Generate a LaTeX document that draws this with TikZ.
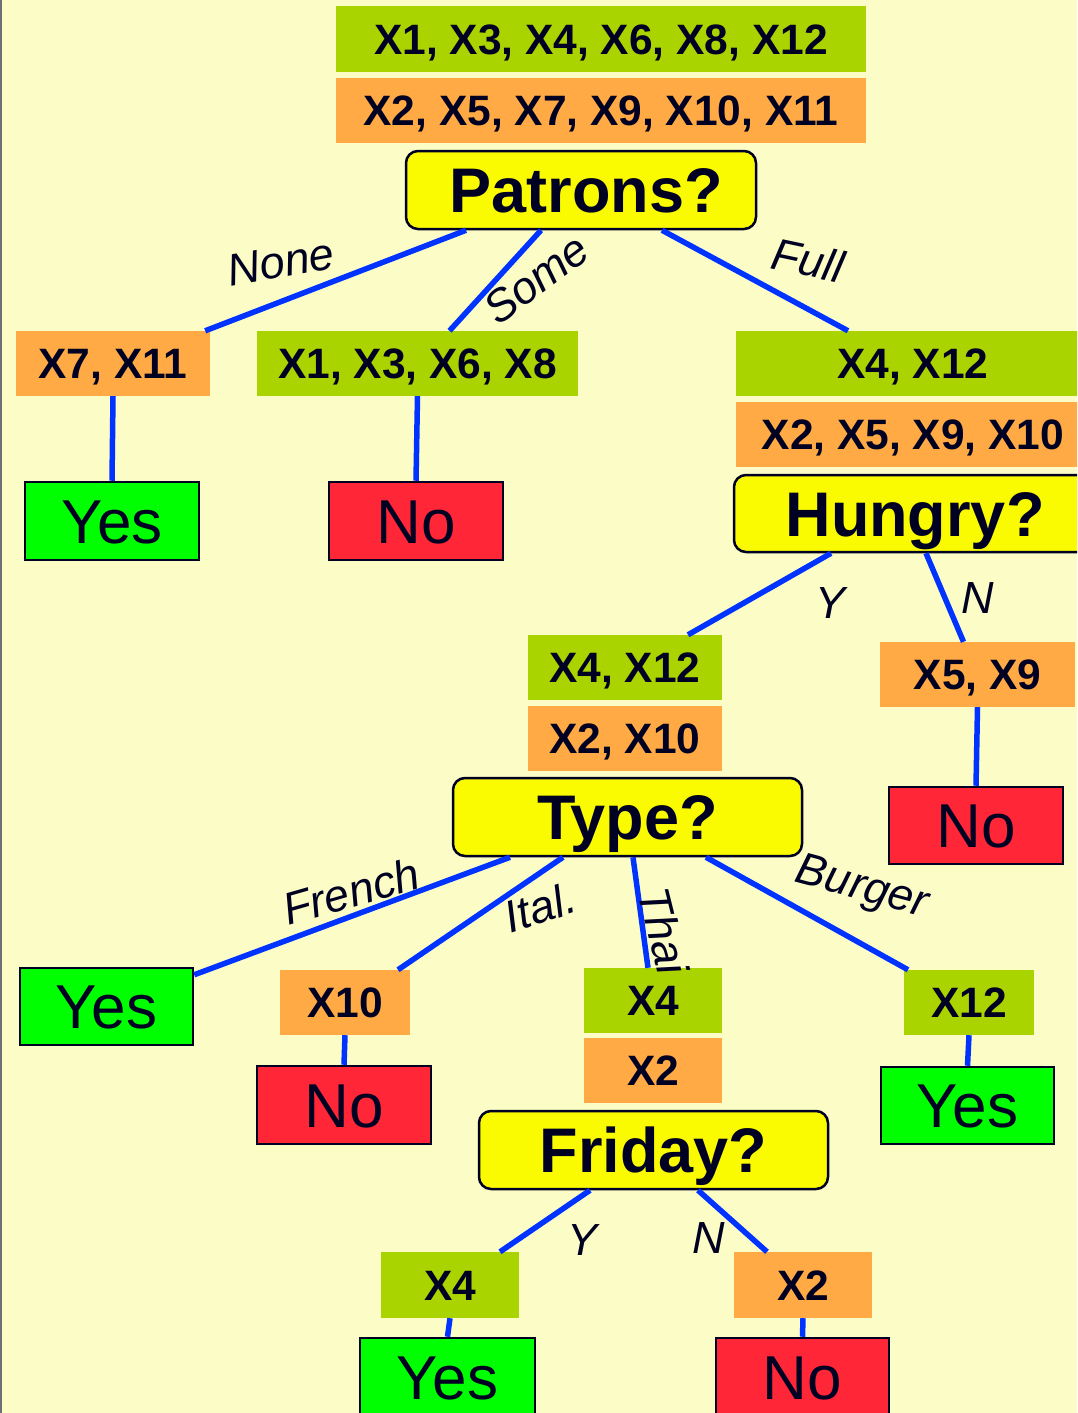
\documentclass[tikz,border=0pt]{standalone}
\usepackage{fontspec}
\setmainfont{Liberation Sans}

\definecolor{bg}{HTML}{FCFCC6}
\definecolor{ink}{HTML}{000022}
\definecolor{setgreen}{HTML}{AAD400}
\definecolor{setorange}{HTML}{FFAA44}
\definecolor{qyellow}{HTML}{FAFA00}
\definecolor{leafgreen}{HTML}{00FF00}
\definecolor{leafred}{HTML}{FF2638}
\definecolor{edgeblue}{HTML}{0033FF}
\definecolor{frame}{HTML}{707070}

\tikzset{
  setbox/.style={inner sep=0pt, text=ink, text height=30.4pt, text depth=0pt,
    font=\fontsize{42.5}{48}\selectfont\bfseries},
  posset/.style={setbox, fill=setgreen},
  negset/.style={setbox, fill=setorange},
  question/.style={draw=ink, line width=2.5pt, fill=qyellow, rounded corners=12pt,
    inner sep=0pt, text=ink, text height=45.1pt, text depth=0pt,
    font=\fontsize{63}{70}\selectfont\bfseries},
  leaf/.style={draw=ink, line width=2.5pt, inner sep=0pt, text=ink,
    text height=44.4pt, text depth=0pt, font=\fontsize{62}{68}\selectfont},
  yesleaf/.style={leaf, fill=leafgreen},
  noleaf/.style={leaf, fill=leafred},
  branch/.style={draw=edgeblue, line width=5.5pt},
  lbl/.style={inner sep=0pt, text=ink, font=\fontsize{45}{50}\selectfont\itshape},
  wh/.style n args={2}{minimum width=#1pt, minimum height=#2pt}
}

\begin{document}
\begin{tikzpicture}[x=1pt, y=-1pt]
  \useasboundingbox (0,0) rectangle (1077,1413);
  \clip (0,0) rectangle (1077,1413);
  \fill[bg] (0,0) rectangle (1077,1413);
  \draw[frame, line width=2pt] (1,0) -- (1,1413);

  % root
  \node[posset, wh={530}{66}] (rootpos) at (601,39) {X1, X3, X4, X6, X8, X12};
  \node[negset, wh={530}{65}] (rootneg) at (601,110.5) {X2, X5, X7, X9, X10, X11};
  \node[question, wh={350}{78}] (patrons) at (581,190) {\hspace*{10pt}Patrons?};

  % patrons children
  \node[negset, wh={194}{65}] (none) at (113,363.5) {X7, X11};
  \node[posset, wh={321}{65}] (some) at (417.5,363.5) {X1, X3, X6, X8};
  \node[posset, wh={354}{65}] (fullpos) at (913,363.5) {X4, X12};
  \node[negset, wh={354}{65}] (fullneg) at (913,434.5) {X2, X5, X9, X10};
  \node[question, wh={362}{77}] (hungry) at (915,513.5) {Hungry?};

  \node[yesleaf, wh={174}{78}] (yesnone) at (112,521) {Yes};
  \node[noleaf, wh={174}{78}] (nosome) at (416,521) {No};

  % hungry children
  \node[posset, wh={194}{65}] (hypos) at (625,667.5) {X4, X12};
  \node[negset, wh={194}{65}] (hyneg) at (625,738.5) {X2, X10};
  \node[question, wh={349}{78}] (type) at (627.5,817) {Type?};
  \node[negset, wh={195}{65}] (hn) at (977.5,674.5) {X5, X9};
  \node[noleaf, wh={174}{77}] (nohn) at (976,825.5) {No};

  % type children
  \node[yesleaf, wh={173}{77}] (yesfrench) at (106.5,1006.5) {Yes};
  \node[negset, wh={130}{65}] (ital) at (345,1002.5) {X10};
  \node[noleaf, wh={174}{78}] (noital) at (344,1105) {No};
  \node[posset, wh={138}{65}] (thaipos) at (653,1000.5) {X4};
  \node[negset, wh={138}{65}] (thaineg) at (653,1070.5) {X2};
  \node[question, wh={349}{78}] (friday) at (653.5,1150) {Friday?};
  \node[posset, wh={130}{65}] (burger) at (969,1002.5) {X12};
  \node[yesleaf, wh={173}{77}] (yesburger) at (967.5,1105.5) {Yes};

  % friday children
  \node[posset, wh={138}{66}] (fy) at (450,1285) {X4};
  \node[negset, wh={138}{66}] (fn) at (803,1285) {X2};
  \node[yesleaf, wh={175}{78}] (yesfy) at (447.5,1377) {Yes};
  \node[noleaf, wh={173}{78}] (nofn) at (802.5,1377) {No};

  % branches
  \draw[branch] ([xshift=-115pt]patrons.south) -- ([xshift=-5pt]none.north east);
  \draw[branch] ([xshift=-40pt]patrons.south) -- ([xshift=32pt]some.north);
  \draw[branch] ([xshift=81pt]patrons.south) -- ([xshift=-65pt]fullpos.north);
  \draw[branch] (none.south) -- (yesnone.north);
  \draw[branch] (some.south) -- (nosome.north);

  \draw[branch] ([xshift=-84pt]hungry.south) -- ([xshift=63pt]hypos.north);
  \draw[branch] ([xshift=11pt]hungry.south) -- ([xshift=-14pt]hn.north);
  \draw[branch] (hn.south) -- (nohn.north);

  \draw[branch] ([xshift=-117.5pt]type.south) -- ([yshift=-8pt]yesfrench.north east);
  \draw[branch] ([xshift=-64.5pt]type.south) -- ([xshift=53pt]ital.north);
  \draw[branch] ([xshift=5.5pt]type.south) -- ([xshift=-5pt]thaipos.north);
  \draw[branch] ([xshift=78.5pt]type.south) -- ([xshift=-61pt]burger.north);
  \draw[branch] (ital.south) -- (noital.north);
  \draw[branch] (burger.south) -- (yesburger.north);

  \draw[branch] ([xshift=-63.5pt]friday.south) -- ([xshift=50pt]fy.north);
  \draw[branch] ([xshift=44.5pt]friday.south) -- ([xshift=-36pt]fn.north);
  \draw[branch] (fy.south) -- (yesfy.north);
  \draw[branch] (fn.south) -- (nofn.north);

  % branch labels
  \node[lbl, rotate=10] (lnone) at (281,262) {None};
  \node[lbl, rotate=37] (lsome) at (536,279) {Some};
  \node[lbl, rotate=-12] (lfull) at (808,260) {Full};
  \node[lbl] (lhy) at (830,603) {Y};
  \node[lbl] (lhn) at (978,598) {N};
  \node[lbl, rotate=16] (lfrench) at (351,891) {French};
  \node[lbl, rotate=18] (lital) at (540,907) {Ital.};
  \node[lbl, rotate=-76] (lthai) at (664,931) {Thai};
  \node[lbl, rotate=-15] (lburger) at (862,889) {Burger};
  \node[lbl] (lfy) at (582,1240) {Y};
  \node[lbl] (lfn) at (709,1238) {N};
\end{tikzpicture}
\end{document}
